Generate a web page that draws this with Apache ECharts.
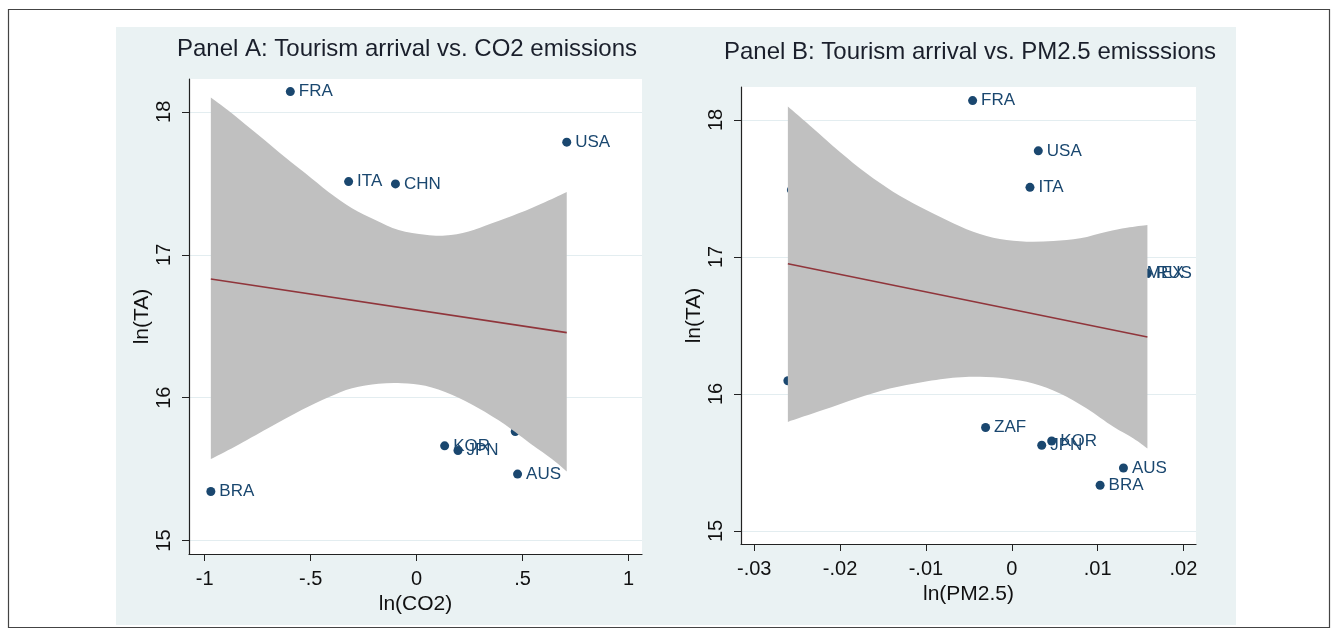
<!DOCTYPE html>
<html>
<head>
<meta charset="utf-8">
<title>Tourism arrival vs. emissions</title>
<script src="https://cdn.jsdelivr.net/npm/echarts@6/dist/echarts.min.js"></script>
<style>
  html, body { margin: 0; padding: 0; background: #fff; }
  #chart { width: 1339px; height: 636px; }
</style>
</head>
<body>
<div id="chart"></div>
<script>
// Panel A: ln(CO2) vs ln(TA)
const countriesA = ['FRA', 'USA', 'ITA', 'CHN', 'KOR', 'JPN', 'ZAF', 'AUS', 'BRA'];
const co2A = [-0.596, 0.708, -0.321, -0.100, 0.132, 0.195, 0.465, 0.476, -0.971];
const taA = [18.142, 17.788, 17.512, 17.496, 15.663, 15.630, 15.763, 15.465, 15.343];
const fitXA = [-0.971, 0.708];
const fitYA = [16.83, 16.455];
// confidence band edges
const upXA = [-0.971, -0.887, -0.777, -0.651, -0.525, -0.416, -0.305, -0.195, -0.085, 0.041, 0.135, 0.245, 0.355, 0.481, 0.607, 0.708];
const upYA = [18.10, 18.007, 17.874, 17.72, 17.57, 17.44, 17.326, 17.244, 17.174, 17.14, 17.134, 17.163, 17.22, 17.29, 17.37, 17.44];
const loXA = [-0.971, -0.856, -0.699, -0.541, -0.416, -0.305, -0.180, -0.069, 0.041, 0.166, 0.292, 0.418, 0.544, 0.638, 0.708];
const loYA = [15.57, 15.658, 15.787, 15.915, 16.003, 16.066, 16.097, 16.101, 16.083, 16.02, 15.926, 15.81, 15.67, 15.57, 15.483];
const xTicksA = [-1, -0.5, 0, 0.5, 1];

// Panel B: ln(PM2.5) vs ln(TA)
const countriesB = ['FRA', 'USA', 'ITA', 'MEX', 'RUS', 'ZAF', 'KOR', 'JPN', 'AUS', 'BRA', 'CHN', ''];
const pmB = [-0.00456, 0.00309, 0.00212, 0.01474, 0.0158, -0.00305, 0.00465, 0.00349, 0.01301, 0.01029, -0.02567, -0.02608];
const taB = [18.141, 17.774, 17.508, 16.88, 16.88, 15.755, 15.657, 15.626, 15.46, 15.334, 17.489, 16.096];
const fitXB = [-0.02608, 0.0158];
const fitYB = [16.95, 16.415];
const upXB = [-0.02608, -0.02316, -0.02005, -0.01693, -0.01383, -0.01071, -0.0076, -0.00449, -0.00138, 0.00174, 0.00484, 0.00796, 0.01107, 0.01341, 0.0158];
const upYB = [18.097, 17.939, 17.768, 17.61, 17.476, 17.367, 17.27, 17.184, 17.13, 17.111, 17.116, 17.136, 17.184, 17.213, 17.233];
const loXB = [-0.02608, -0.022, -0.0181, -0.01421, -0.01033, -0.00643, -0.00371, -0.0006, 0.00251, 0.00562, 0.00874, 0.01184, 0.01418, 0.0158];
const loYB = [15.796, 15.882, 15.967, 16.04, 16.088, 16.12, 16.125, 16.113, 16.077, 16.004, 15.894, 15.76, 15.675, 15.602];
const xTicksB = [-0.03, -0.02, -0.01, 0, 0.01, 0.02];

const yTicks = [15, 16, 17, 18];

const navy = '#1a476f';
const ink = '#111';
const font = 'Liberation Sans, Arial, sans-serif';

// drop the leading zero, Stata style: -0.5 -> -.5
const fmt = v => String(v).replace(/^(-?)0\./, '$1.');

function xAxis(idx, min, max, ticks, name, gap) {
  return {
    gridIndex: idx, type: 'value', min: min, max: max,
    name: name, nameLocation: 'middle', nameGap: gap,
    nameTextStyle: { fontSize: 21, color: ink, fontFamily: font },
    axisLine: { show: true, onZero: false, lineStyle: { color: '#222', width: 1.2 } },
    axisTick: { show: true, length: 7, customValues: ticks, lineStyle: { color: '#222' } },
    axisLabel: { customValues: ticks, formatter: fmt, fontSize: 20, color: ink, margin: 15, fontFamily: font },
    splitLine: { show: false }
  };
}

function yAxis(idx, min, max, gap) {
  return {
    gridIndex: idx, type: 'value', min: min, max: max,
    name: 'ln(TA)', nameLocation: 'middle', nameGap: gap, nameRotate: 90,
    nameTextStyle: { fontSize: 21, color: ink, fontFamily: font },
    axisLine: { show: true, onZero: false, lineStyle: { color: '#222', width: 1.2 } },
    axisTick: { show: true, length: 7, customValues: yTicks, lineStyle: { color: '#222' } },
    axisLabel: { customValues: yTicks, rotate: 90, fontSize: 20, color: ink, margin: 15, fontFamily: font },
    splitLine: { show: true, lineStyle: { color: '#e3edf0', width: 1 } }
  };
}

function scatter(idx, names, xs, ys) {
  return {
    type: 'scatter', xAxisIndex: idx, yAxisIndex: idx, z: 2,
    symbolSize: 9, itemStyle: { color: navy, opacity: 1 },
    label: { show: true, position: 'right', distance: 4, formatter: '{b}', color: navy, opacity: 1, fontSize: 17, fontFamily: font },
    data: names.map((n, i) => ({ name: n, value: [xs[i], ys[i]] }))
  };
}

// smooth curve through pixel points (Catmull-Rom as cubic Bezier)
function curveTo(p) {
  let d = '';
  for (let i = 0; i < p.length - 1; i++) {
    const a = p[Math.max(i - 1, 0)], b = p[i], c = p[i + 1], e = p[Math.min(i + 2, p.length - 1)];
    d += ' C' + (b[0] + (c[0] - a[0]) / 6) + ',' + (b[1] + (c[1] - a[1]) / 6) +
         ' ' + (c[0] - (e[0] - b[0]) / 6) + ',' + (c[1] - (e[1] - b[1]) / 6) +
         ' ' + c[0] + ',' + c[1];
  }
  return d;
}

// grey CI band: upper edge left->right, then lower edge back
function band(idx, ux, uy, lx, ly) {
  return {
    type: 'custom', xAxisIndex: idx, yAxisIndex: idx, z: 3, silent: true,
    data: [[ux[0], uy[0]]],
    renderItem: function (params, api) {
      const up = ux.map((x, i) => api.coord([x, uy[i]]));
      const lo = lx.map((x, i) => api.coord([x, ly[i]])).reverse();
      const d = 'M' + up[0][0] + ',' + up[0][1] + curveTo(up) +
                ' L' + lo[0][0] + ',' + lo[0][1] + curveTo(lo) + ' Z';
      return { type: 'path', shape: { pathData: d }, style: { fill: '#c0c0c0', stroke: null } };
    }
  };
}

function fit(idx, xs, ys) {
  return {
    type: 'line', xAxisIndex: idx, yAxisIndex: idx, z: 4, silent: true,
    showSymbol: false, symbol: 'none',
    lineStyle: { color: '#90353b', width: 1.6 },
    data: xs.map((x, i) => [x, ys[i]])
  };
}

const chart = echarts.init(document.getElementById('chart'));
chart.setOption({
  animation: false,
  backgroundColor: '#fff',
  textStyle: { fontFamily: font },
  graphic: [
    { type: 'rect', z: -10, silent: true, shape: { x: 116, y: 27, width: 1120, height: 598 }, style: { fill: '#eaf2f3' } },
    { type: 'rect', z: -10, silent: true, shape: { x: 8.5, y: 9.5, width: 1321, height: 618 }, style: { fill: null, stroke: '#444', lineWidth: 1.2 } }
  ],
  title: [
    { text: 'Panel A: Tourism arrival vs. CO2 emissions', left: 407, top: 49, padding: 0, textAlign: 'center', textVerticalAlign: 'middle',
      textStyle: { fontSize: 24, fontWeight: 'normal', color: '#1a1f2b', fontFamily: font } },
    { text: 'Panel B: Tourism arrival vs. PM2.5 emisssions', left: 970, top: 52, padding: 0, textAlign: 'center', textVerticalAlign: 'middle',
      textStyle: { fontSize: 24, fontWeight: 'normal', color: '#1a1f2b', fontFamily: font } }
  ],
  grid: [
    { left: 189, top: 79, width: 453, height: 475, show: true, backgroundColor: '#fff', borderWidth: 0, outerBoundsMode: 'none' },
    { left: 741, top: 87, width: 455, height: 457, show: true, backgroundColor: '#fff', borderWidth: 0, outerBoundsMode: 'none' }
  ],
  xAxis: [
    xAxis(0, -1.074, 1.063, xTicksA, 'ln(CO2)', 34),
    xAxis(1, -0.03154, 0.02146, xTicksB, 'ln(PM2.5)', 36)
  ],
  yAxis: [
    yAxis(0, 14.906, 18.23, 34),
    yAxis(1, 14.905, 18.24, 33)
  ],
  series: [
    scatter(0, countriesA, co2A, taA),
    band(0, upXA, upYA, loXA, loYA),
    fit(0, fitXA, fitYA),
    scatter(1, countriesB, pmB, taB),
    band(1, upXB, upYB, loXB, loYB),
    fit(1, fitXB, fitYB)
  ]
});
</script>
</body>
</html>
